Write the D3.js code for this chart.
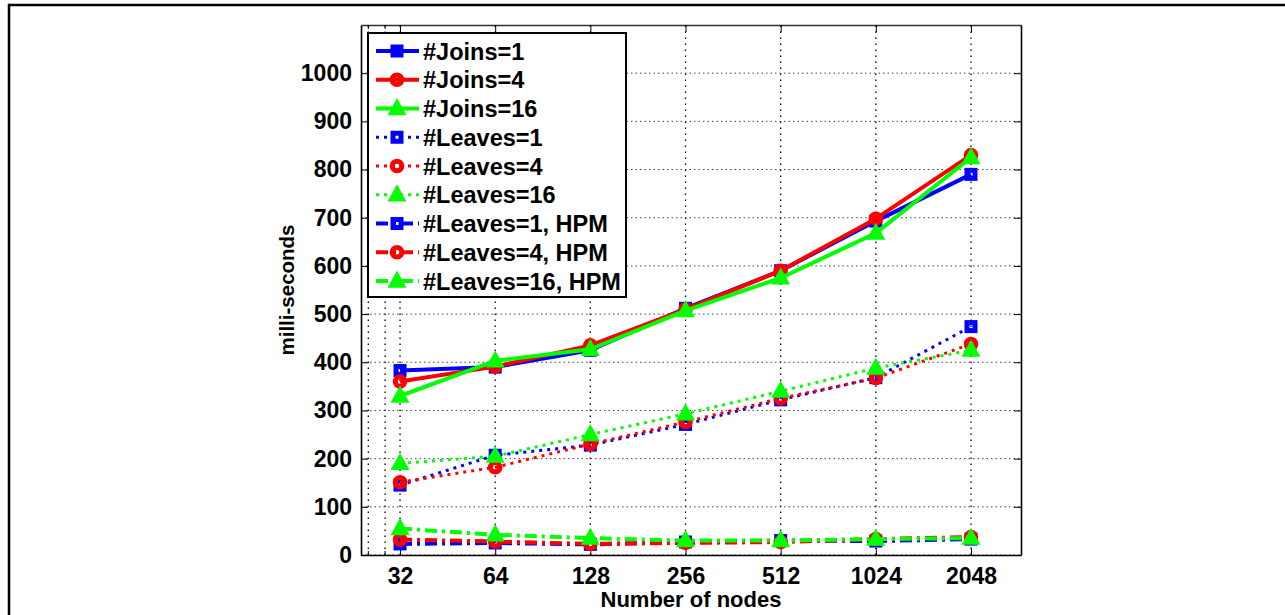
<!DOCTYPE html>
<html>
<head>
<meta charset="utf-8">
<script src="https://cdn.jsdelivr.net/npm/d3@7"></script>
<style>
  html, body { margin: 0; padding: 0; background: #fff; }
  svg { display: block; font-family: "Liberation Sans", Arial, sans-serif; }
</style>
</head>
<body>
<svg id="chart"></svg>
<script>
// node counts on the x axis
const nodes = [32, 64, 128, 256, 512, 1024, 2048];
const yTicks = [0, 100, 200, 300, 400, 500, 600, 700, 800, 900, 1000];
const xMinorTicks = [25.4, 28.7];

// milli-seconds
const joins1 = [383, 390, 425, 512, 590, 693, 790];
const joins4 = [360, 391, 435, 510, 590, 698, 830];
const joins16 = [330, 403, 427, 507, 575, 668, 825];
const leaves1 = [145, 207, 228, 271, 322, 368, 474];
const leaves4 = [151, 182, 230, 276, 325, 367, 438];
const leaves16 = [190, 205, 250, 293, 340, 388, 425];
const leaves1Hpm = [23, 25, 22, 27, 30, 29, 33];
const leaves4Hpm = [32, 28, 23, 25, 27, 33, 37];
const leaves16Hpm = [55, 42, 35, 30, 30, 33, 35];

const seriesNames = ["#Joins=1", "#Joins=4", "#Joins=16",
  "#Leaves=1", "#Leaves=4", "#Leaves=16",
  "#Leaves=1, HPM", "#Leaves=4, HPM", "#Leaves=16, HPM"];
const seriesValues = [joins1, joins4, joins16, leaves1, leaves4, leaves16,
  leaves1Hpm, leaves4Hpm, leaves16Hpm];

const colors = ["#0000ff", "#ff0000", "#00ff00"];
const markers = ["square", "circle", "triangle"];
const lineStyles = [
  { width: 4, dash: null },
  { width: 3, dash: "3,5" },
  { width: 4, dash: "12,5,3,5" },
];

const width = 1285;
const height = 615;
const marginLeft = 361;
const marginRight = 264;
const marginTop = 25;
const marginBottom = 60;

const svg = d3.select("svg#chart")
  .attr("width", width)
  .attr("height", height)
  .attr("viewBox", [0, 0, width, height]);

// outer frame of the figure (top and left edge only)
svg.append("path")
  .attr("d", `M9,${height} V5 H${width}`)
  .attr("fill", "none")
  .attr("stroke", "#000")
  .attr("stroke-width", 2.5);

const x = d3.scaleLog().base(2)
  .domain([24.08, 2948])
  .range([marginLeft, width - marginRight]);

const y = d3.scaleLinear()
  .domain([0, 1100])
  .range([height - marginBottom, marginTop]);

const x0 = x.range()[0], x1 = x.range()[1];
const y0 = y.range()[0], y1 = y.range()[1];

// grid
svg.append("g")
  .selectAll("line")
  .data(nodes.concat(xMinorTicks))
  .join("line")
  .attr("x1", d => x(d)).attr("x2", d => x(d))
  .attr("y1", y0).attr("y2", y1)
  .attr("stroke", "#000")
  .attr("stroke-width", 1.3)
  .attr("stroke-dasharray", "1.5,4.5");

svg.append("g")
  .selectAll("line")
  .data(yTicks)
  .join("line")
  .attr("x1", x0).attr("x2", x1)
  .attr("y1", d => y(d)).attr("y2", d => y(d))
  .attr("stroke", "#444")
  .attr("stroke-width", 1)
  .attr("stroke-dasharray", "1.5,3");

// bold text like matlab
function styleText(sel, size) {
  sel.attr("font-size", size).attr("font-weight", "bold").attr("fill", "#000");
}

// axes, ticks point inward like matlab
svg.append("g")
  .attr("transform", `translate(0,${y0})`)
  .call(d3.axisBottom(x).tickValues(nodes).tickFormat(d3.format("d")).tickSizeInner(-7).tickSizeOuter(0).tickPadding(13))
  .call(g => g.select(".domain").attr("stroke-width", 1.6))
  .call(g => styleText(g.selectAll(".tick text"), 23));

svg.append("g")
  .attr("transform", `translate(0,${y1})`)
  .call(d3.axisTop(x).tickValues(nodes).tickFormat("").tickSizeInner(-7).tickSizeOuter(0))
  .call(g => g.select(".domain").attr("stroke", "#333").attr("stroke-width", 1.6));

// small minor ticks at the left end
for (const axisY of [y0, y1]) {
  const dir = axisY === y0 ? -1 : 1;
  svg.append("g")
    .selectAll("line")
    .data(xMinorTicks)
    .join("line")
    .attr("x1", d => x(d)).attr("x2", d => x(d))
    .attr("y1", axisY).attr("y2", axisY + dir * 4)
    .attr("stroke", "#000");
}

svg.append("g")
  .attr("transform", `translate(${x0},0)`)
  .call(d3.axisLeft(y).tickValues(yTicks).tickFormat(d3.format("d")).tickSizeInner(-7).tickSizeOuter(0).tickPadding(9))
  .call(g => g.select(".domain").attr("stroke-width", 1.6))
  .call(g => styleText(g.selectAll(".tick text"), 23));

svg.append("g")
  .attr("transform", `translate(${x1},0)`)
  .call(d3.axisRight(y).tickValues(yTicks).tickFormat("").tickSizeInner(-7).tickSizeOuter(0))
  .call(g => g.select(".domain").attr("stroke-width", 1.6));

// axis labels
svg.append("text")
  .attr("x", (x0 + x1) / 2)
  .attr("y", y0 + 52)
  .attr("text-anchor", "middle")
  .call(styleText, 22)
  .text("Number of nodes");

svg.append("text")
  .attr("transform", `translate(294,${(y0 + y1) / 2}) rotate(-90)`)
  .attr("text-anchor", "middle")
  .call(styleText, 20.5)
  .text("milli-seconds");

function drawMarker(g, kind, color, cx, cy) {
  if (kind === "square") {
    g.append("rect")
      .attr("x", cx - 4).attr("y", cy - 4)
      .attr("width", 8).attr("height", 8)
      .attr("fill", "none")
      .attr("stroke", color)
      .attr("stroke-width", 5);
  } else if (kind === "circle") {
    g.append("circle")
      .attr("cx", cx).attr("cy", cy).attr("r", 4.8)
      .attr("fill", "none")
      .attr("stroke", color)
      .attr("stroke-width", 5);
  } else {
    const s = 6.5;
    g.append("path")
      .attr("d", `M${cx},${cy - s * 1.05} L${cx + s},${cy + s * 0.75} L${cx - s},${cy + s * 0.75} Z`)
      .attr("fill", color)
      .attr("stroke", color)
      .attr("stroke-linejoin", "miter")
      .attr("stroke-width", 3.5);
  }
}

const line = d3.line()
  .x((d, i) => x(nodes[i]))
  .y(d => y(d));

for (let s = 0; s < seriesValues.length; s++) {
  const color = colors[s % 3];
  const style = lineStyles[Math.floor(s / 3)];
  const g = svg.append("g");
  g.append("path")
    .attr("fill", "none")
    .attr("stroke", color)
    .attr("stroke-width", style.width)
    .attr("stroke-dasharray", style.dash)
    .attr("stroke-linejoin", "round")
    .attr("d", line(seriesValues[s]));
  seriesValues[s].forEach((v, i) => drawMarker(g, markers[s % 3], color, x(nodes[i]), y(v)));
}

// legend
const legendX = 368;
const legendY = 33;
const legendW = 258;
const rowH = 28.75;
const legend = svg.append("g");
legend.append("rect")
  .attr("x", legendX).attr("y", legendY)
  .attr("width", legendW).attr("height", 264)
  .attr("fill", "#fff")
  .attr("stroke", "#000")
  .attr("stroke-width", 2);

seriesNames.forEach((name, s) => {
  const color = colors[s % 3];
  const style = lineStyles[Math.floor(s / 3)];
  const cy = legendY + 18 + s * rowH;
  legend.append("line")
    .attr("x1", legendX + 8).attr("x2", legendX + 51)
    .attr("y1", cy).attr("y2", cy)
    .attr("stroke", color)
    .attr("stroke-width", style.width)
    .attr("stroke-dasharray", style.dash);
  drawMarker(legend, markers[s % 3], color, legendX + 29, cy);
  legend.append("text")
    .attr("x", legendX + 55)
    .attr("y", cy + 8.5)
    .call(styleText, 23.5)
    .text(name);
});
</script>
</body>
</html>
